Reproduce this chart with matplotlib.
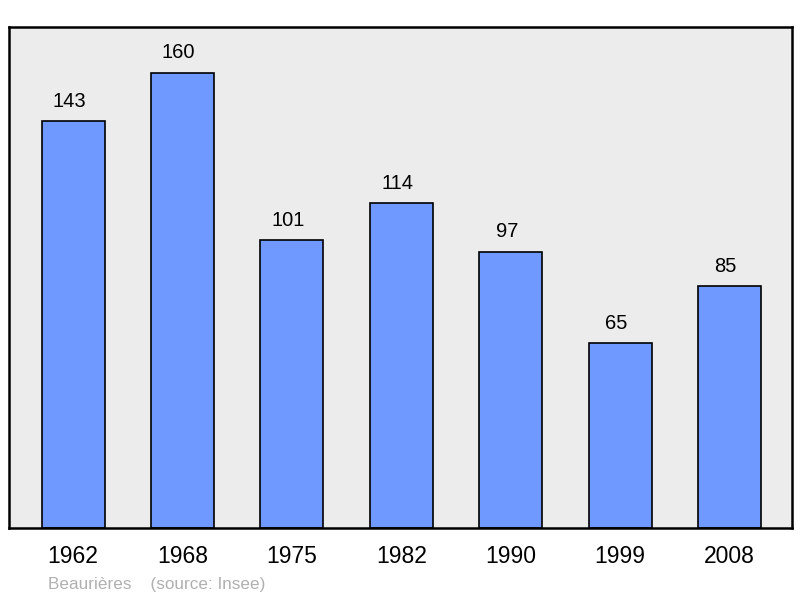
import matplotlib.pyplot as plt

# population data
years = ['1962', '1968', '1975', '1982', '1990', '1999', '2008']
population = [143, 160, 101, 114, 97, 65, 85]

plt.rcParams['font.family'] = ['Liberation Sans', 'DejaVu Sans']

fig = plt.figure(figsize=(8, 5.98), dpi=100)
ax = fig.add_axes([9 / 800, 1 - 528 / 598, 783 / 800, 501 / 598])
ax.set_facecolor('#ececec')

x = range(len(years))
ax.bar(x, population, width=0.576, color='#7099ff', edgecolor='black', linewidth=1.2)

for i, v in zip(x, population):
    ax.text(i - 0.035, v + 7.0, str(v), ha='center', va='center', fontsize=14.5)

ax.set_xlim(-0.585, 6.57)
ax.set_ylim(0, 176)
ax.set_yticks([])
ax.set_xticks(list(x))
ax.set_xticklabels(years, fontsize=16.5)
ax.tick_params(axis='x', length=0, pad=12)
for s in ax.spines.values():
    s.set_linewidth(1.8)

fig.text(48 / 800, 1 - 584 / 598, 'Beaurières    (source: Insee)', color='#b0b0b0',
         fontsize=12.3, va='center')

fig.savefig('out.png', dpi=100)
